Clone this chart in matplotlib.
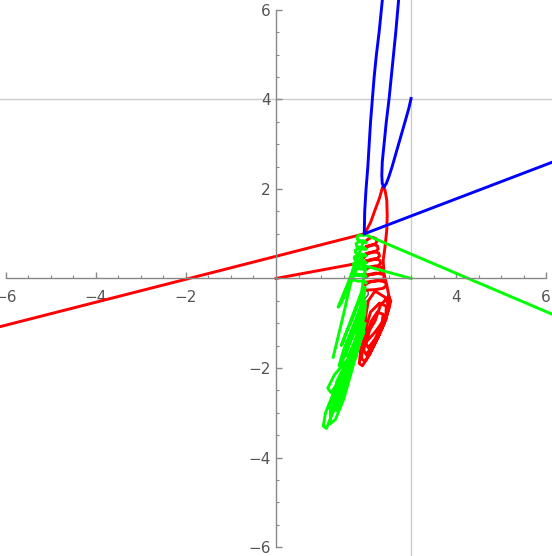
import matplotlib
matplotlib.use("Agg")
import matplotlib.pyplot as plt
from matplotlib.ticker import MultipleLocator, FixedLocator

# straight segments
red_line1_x = [-7.0, 1.97]
red_line1_y = [-1.30, 1.0]
red_line2_x = [0.0, 1.72, 1.88, 1.98]
red_line2_y = [0.0, 0.32, 0.38, 0.5]
blue_line_x = [1.97, 6.3]
blue_line_y = [1.0, 2.66]
green_line1_x = [1.98, 6.3]
green_line1_y = [0.98, -0.87]
green_line2_x = [3.0, 1.76, 1.5, 1.27]
green_line2_y = [0.0, 0.34, -0.8, -1.76]

# blue branches above the junction
blue_a_x = [1.96, 1.97, 2.0, 2.04, 2.07, 2.10, 2.14, 2.18, 2.23, 2.29, 2.37]
blue_a_y = [1.0, 1.5, 2.0, 2.5, 3.0, 3.5, 4.0, 4.5, 5.0, 5.5, 6.3]
blue_b_x = [2.40, 2.36, 2.35, 2.36, 2.40, 2.45, 2.51, 2.56, 2.61, 2.66, 2.73]
blue_b_y = [2.05, 2.12, 2.3, 2.6, 3.0, 3.5, 4.0, 4.5, 5.0, 5.5, 6.3]
blue_c_x = [2.40, 2.45, 2.51, 2.58, 2.68, 2.78, 2.88, 2.95, 3.0]
blue_c_y = [2.05, 2.12, 2.28, 2.5, 2.85, 3.2, 3.55, 3.8, 4.02]

# red outer branch: junction -> cusp -> right side -> long loops
red_outer_x = [1.97, 2.1, 2.2, 2.3, 2.37, 2.42, 2.46, 2.47, 2.46, 2.42,
               2.38, 2.4, 2.46, 2.52, 2.5, 2.4, 2.25, 2.08, 1.92, 1.85,
               1.88, 1.95, 2.0, 2.05, 2.2, 2.42, 2.5, 2.45, 2.3, 2.12,
               1.98, 1.9, 1.92, 2.0, 2.1, 2.3, 2.45, 2.44, 2.32, 2.15,
               2.0, 1.95, 2.0, 2.12, 2.25, 2.38, 2.35, 2.2, 2.05, 2.0,
               2.08, 2.2, 2.32, 2.5, 2.55, 2.5, 2.38, 2.2, 2.02]
red_outer_y = [1.0, 1.25, 1.53, 1.8, 2.05, 1.98, 1.75, 1.4, 1.08, 0.7,
               0.4, 0.1, -0.15, -0.45, -0.7, -1.0, -1.35, -1.7, -1.95, -1.9,
               -1.6, -1.2, -0.8, -0.5, -0.28, -0.42, -0.6, -0.9, -1.25, -1.6,
               -1.85, -1.8, -1.5, -1.1, -0.75, -0.55, -0.62, -0.85, -1.15, -1.5,
               -1.7, -1.6, -1.3, -0.95, -0.75, -0.8, -1.05, -1.35, -1.55, -1.45,
               -1.15, -0.95, -0.6, -0.4, -0.5, -0.7, -0.95, -1.2, -1.4]

# red coils hanging below the junction
red_coil_x = [1.98, 2.06, 2.15, 2.22, 2.24, 2.19, 2.1, 2.0,
              1.98, 2.06, 2.16, 2.25, 2.27, 2.21, 2.1, 2.0,
              1.98, 2.06, 2.17, 2.28, 2.3, 2.24, 2.12, 2.0,
              1.98, 2.07, 2.18, 2.3, 2.33, 2.26, 2.13, 2.0,
              1.98, 2.07, 2.2, 2.34, 2.37, 2.3, 2.15, 2.0,
              1.98, 2.08, 2.22, 2.38, 2.41, 2.34, 2.17, 2.0,
              1.98, 2.1, 2.25, 2.42, 2.46, 2.38, 2.2, 2.0]
red_coil_y = [0.82, 0.89, 0.92, 0.89, 0.82, 0.76, 0.73, 0.72,
              0.66, 0.73, 0.76, 0.73, 0.66, 0.6, 0.57, 0.56,
              0.5, 0.57, 0.6, 0.57, 0.5, 0.44, 0.41, 0.4,
              0.34, 0.41, 0.44, 0.41, 0.34, 0.28, 0.25, 0.24,
              0.18, 0.25, 0.28, 0.25, 0.18, 0.12, 0.09, 0.08,
              0.02, 0.09, 0.12, 0.09, 0.02, -0.04, -0.07, -0.08,
              -0.14, -0.07, -0.04, -0.08, -0.15, -0.22, -0.25, -0.26]

# green coils left of the junction
green_coil_x = [2.0, 1.93, 1.85, 1.8, 1.81, 1.88, 1.96,
                2.0, 1.93, 1.84, 1.78, 1.79, 1.87, 1.96,
                2.0, 1.92, 1.83, 1.76, 1.77, 1.86, 1.96,
                2.0, 1.92, 1.82, 1.74, 1.75, 1.85, 1.96,
                2.0, 1.91, 1.8, 1.72, 1.73, 1.84, 1.96,
                2.0, 1.9, 1.78, 1.7, 1.71, 1.83, 1.96,
                2.0, 1.9, 1.76, 1.68, 1.7, 1.82, 1.96, 2.0]
green_coil_y = [0.98, 0.96, 0.97, 0.93, 0.87, 0.84, 0.84,
                0.8, 0.81, 0.82, 0.78, 0.72, 0.69, 0.69,
                0.65, 0.66, 0.67, 0.63, 0.57, 0.54, 0.54,
                0.5, 0.51, 0.52, 0.48, 0.42, 0.39, 0.39,
                0.35, 0.36, 0.37, 0.33, 0.27, 0.24, 0.24,
                0.2, 0.21, 0.22, 0.18, 0.12, 0.09, 0.09,
                0.05, 0.06, 0.07, 0.03, -0.03, -0.06, -0.06, -0.1]

# green long strokes and lower loops
green_x = [1.93, 1.6, 1.38, 1.45, 1.7, 1.9, 1.98,
           1.9, 1.75, 1.6, 1.5, 1.45, 1.52, 1.7, 1.85, 1.98,
           1.95, 1.8, 1.65, 1.55, 1.6, 1.75, 1.9, 1.98,
           1.97, 1.85, 1.72, 1.68, 1.78, 1.9, 1.98,
           1.9, 1.75, 1.55, 1.3, 1.12, 1.05, 1.1, 1.3, 1.55, 1.8, 1.95,
           1.75, 1.55, 1.38, 1.22, 1.2, 1.35, 1.6, 1.78,
           1.6, 1.4, 1.22, 1.15, 1.3, 1.55,
           1.68, 1.5, 1.35, 1.28, 1.35, 1.62, 1.85,
           1.98, 1.82, 1.62, 1.45, 1.4, 1.5, 1.7, 1.9,
           1.95, 1.8, 1.6, 1.42, 1.3, 1.35, 1.55, 1.75, 1.9,
           1.7, 1.5, 1.32, 1.2, 1.22, 1.4, 1.62]
green_y = [0.79, -0.1, -0.64, -0.55, 0.0, 0.5, 0.2,
           -0.3, -0.7, -1.1, -1.4, -1.5, -1.3, -0.9, -0.5, -0.2,
           -0.4, -0.9, -1.35, -1.7, -1.75, -1.4, -0.9, -0.6,
           -0.8, -1.2, -1.6, -1.85, -1.7, -1.3, -1.0,
           -1.1, -1.6, -2.2, -2.9, -3.35, -3.3, -3.0, -2.5, -2.0, -1.5, -1.2,
           -1.7, -2.3, -2.8, -3.05, -2.85, -2.45, -2.0, -1.75,
           -1.85, -2.3, -2.55, -2.45, -2.15, -1.85,
           -1.8, -2.55, -2.95, -2.9, -2.5, -1.95, -1.4,
           -0.5, -1.0, -1.5, -1.9, -1.95, -1.6, -1.1, -0.6,
           -1.2, -1.55, -2.0, -2.4, -2.6, -2.3, -1.9, -1.5, -1.3,
           -2.0, -2.7, -3.15, -3.25, -3.0, -2.5, -2.1]

ticks = [-6, -4, -2, 2, 4, 6]

fig = plt.figure(figsize=(5.52, 5.56), dpi=100)
ax = fig.add_axes([0, 0, 1, 1])
ax.set_xlim(-6.13, 6.13)
ax.set_ylim(-6.2, 6.22)

ax.axvline(3, color="#cccccc", lw=1.0, zorder=1)
ax.axhline(4, color="#cccccc", lw=1.0, zorder=1)

lw = 2.1
red = "#ff0000"
green = "#00ff00"
blue = "#0000ff"
ax.plot(red_line1_x, red_line1_y, color=red, lw=lw)
ax.plot(red_line2_x, red_line2_y, color=red, lw=lw)
ax.plot(red_outer_x, red_outer_y, color=red, lw=lw)
ax.plot(red_coil_x, red_coil_y, color=red, lw=lw)
ax.plot(green_line1_x, green_line1_y, color=green, lw=lw)
ax.plot(green_line2_x, green_line2_y, color=green, lw=lw)
ax.plot(green_coil_x, green_coil_y, color=green, lw=lw)
ax.plot(green_x, green_y, color=green, lw=lw)
ax.plot(blue_line_x, blue_line_y, color=blue, lw=lw)
ax.plot(blue_a_x, blue_a_y, color=blue, lw=lw)
ax.plot(blue_b_x, blue_b_y, color=blue, lw=lw)
ax.plot(blue_c_x, blue_c_y, color=blue, lw=lw)

for side in ["top", "right"]:
    ax.spines[side].set_visible(False)
for side in ["left", "bottom"]:
    ax.spines[side].set_position(("data", 0))
    ax.spines[side].set_color("#888888")
    ax.spines[side].set_linewidth(1.0)
    ax.spines[side].set_bounds(-6, 6)

ax.xaxis.set_major_locator(FixedLocator(ticks))
ax.yaxis.set_major_locator(FixedLocator(ticks))
ax.xaxis.set_minor_locator(MultipleLocator(0.5))
ax.yaxis.set_minor_locator(MultipleLocator(0.5))
ax.tick_params(which="both", direction="in", color="#888888", labelcolor="#555555",
               labelsize=11)
ax.tick_params(which="major", length=4, width=1.0)
ax.tick_params(which="minor", length=2, width=0.8)
ax.tick_params(axis="x", pad=8)
ax.tick_params(axis="y", pad=4)

fig.savefig("out.png", dpi=100)
